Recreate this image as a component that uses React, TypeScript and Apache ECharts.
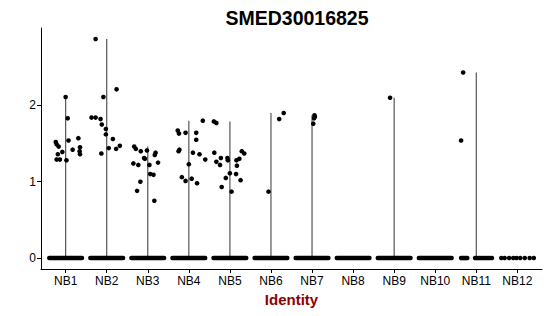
import React, { useEffect, useRef } from "react";
import * as echarts from "echarts";

const categories = ["NB1", "NB2", "NB3", "NB4", "NB5", "NB6", "NB7", "NB8", "NB9", "NB10", "NB11", "NB12"];
const yTicks = [0, 1, 2];
const yMin = -0.1435;
const yMax = 3.0135;

// top of each (very thin) violin, 0 = no violin drawn
const violinMax = [2.11, 2.87, 1.46, 1.8, 1.79, 1.9, 1.87, 0, 2.1, 0, 2.43, 0];

// non-zero expression points: [jitter, value]
const nb1Points = [[-0.24, 1.52], [-0.22, 1.49], [-0.17, 1.46], [-0.19, 1.36], [-0.22, 1.29], [-0.14, 1.29], [-0.08, 1.39], [0, 2.11], [0.05, 1.83], [0.07, 1.54], [0.02, 1.28], [0.17, 1.42], [0.31, 1.57], [0.35, 1.45], [0.34, 1.4], [0.35, 1.36]];
const nb2Points = [[-0.27, 2.87], [-0.37, 1.84], [-0.27, 1.84], [-0.15, 1.82], [-0.12, 1.75], [-0.08, 2.11], [-0.02, 1.69], [-0.02, 1.62], [-0.13, 1.37], [0.05, 1.44], [0.15, 1.56], [0.24, 2.21], [0.23, 1.43], [0.32, 1.47]];
const nb3Points = [[-0.33, 1.46], [-0.29, 1.43], [-0.35, 1.24], [-0.23, 1.22], [-0.17, 1.4], [-0.09, 1.31], [-0.07, 1.3], [-0.02, 1.41], [-0.18, 1.0], [-0.26, 0.88], [0.04, 1.22], [0.06, 1.1], [0.14, 1.09], [0.17, 1.35], [0.19, 1.38], [0.25, 1.25], [0.16, 0.75]];
const nb4Points = [[-0.27, 1.67], [-0.24, 1.63], [-0.25, 1.4], [-0.23, 1.42], [-0.08, 1.64], [-0.17, 1.06], [-0.08, 1.01], [0, 1.23], [0.07, 1.04], [0.1, 1.38], [0.18, 1.64], [0.18, 1.55], [0.2, 0.98], [0.26, 1.36], [0.34, 1.8], [0.4, 1.29]];
const nb5Points = [[-0.39, 1.79], [-0.33, 1.77], [-0.38, 1.38], [-0.33, 1.26], [-0.24, 1.22], [-0.22, 1.31], [-0.06, 1.31], [-0.05, 1.28], [-0.1, 1.05], [-0.2, 0.93], [0, 1.11], [0.04, 0.87], [0.15, 1.1], [0.16, 1.28], [0.17, 1.21], [0.23, 1.3], [0.26, 1.02], [0.29, 1.4], [0.35, 1.37]];
const nb6Points = [[-0.06, 0.87], [0.2, 1.82], [0.31, 1.9]];
const nb7Points = [[0.06, 1.87], [0.07, 1.85], [0.05, 1.83], [0.03, 1.76]];
const nb8Points: number[][] = [];
const nb9Points = [[-0.1, 2.1]];
const nb10Points: number[][] = [];
const nb11Points = [[-0.32, 2.43], [-0.37, 1.54]];
const nb12Points: number[][] = [];
const groupPoints = [nb1Points, nb2Points, nb3Points, nb4Points, nb5Points, nb6Points, nb7Points, nb8Points, nb9Points, nb10Points, nb11Points, nb12Points];

// zero-valued cells: dense jitter bands (half-width in category units), 0 = listed individually
const zeroBandHalf = [0.4, 0.4, 0.4, 0.4, 0.4, 0.4, 0.4, 0.4, 0.4, 0.4, 0, 0];
const nb11ZeroJitter = [-0.37, -0.34, -0.31, -0.28, -0.25, -0.22, -0.03, 0.01, 0.05, 0.09, 0.13, 0.17, 0.21, 0.25, 0.29, 0.33, 0.38];
const nb12ZeroJitter = [-0.39, -0.31, -0.2, -0.1, -0.02, 0.07, 0.18, 0.3, 0.4];

const FONT = "'Liberation Sans', Arial, Helvetica, sans-serif";

export default function App() {
  const ref = useRef<HTMLDivElement>(null);
  useEffect(() => {
    if (!ref.current) return;
    const chart = echarts.init(ref.current, null, { renderer: "svg" });

    const scatterData: number[][] = [];
    groupPoints.forEach((pts, i) => pts.forEach(([j, v]) => scatterData.push([i + 1 + j, v])));
    nb11ZeroJitter.forEach((j) => scatterData.push([11 + j, 0]));
    nb12ZeroJitter.forEach((j) => scatterData.push([12 + j, 0]));

    const violinData = violinMax.map((m, i) => [i + 1, m]).filter((d) => d[1] > 0);
    const bandData = zeroBandHalf.map((h, i) => [i + 1, h]).filter((d) => d[1] > 0);

    chart.setOption({
      animation: false,
      title: {
        text: "SMED30016825",
        left: 292,
        top: 3,
        textAlign: "center",
        textStyle: { fontFamily: FONT, fontSize: 19.5, fontWeight: "bold", color: "#000" },
      },
      grid: { left: 41, right: 8, top: 28, bottom: 47, containLabel: false },
      xAxis: {
        type: "value",
        min: 0.4,
        max: 12.6,
        splitLine: { show: false },
        axisLine: { show: true, onZero: false, lineStyle: { color: "#000", width: 1 } },
        axisTick: { show: true, length: 4, customValues: categories.map((_, i) => i + 1), lineStyle: { color: "#000" } },
        axisLabel: {
          customValues: categories.map((_, i) => i + 1),
          formatter: (v: number) => categories[Math.round(v) - 1] ?? "",
          fontFamily: FONT,
          fontSize: 12,
          color: "#000",
          margin: 6,
        },
        name: "Identity",
        nameLocation: "middle",
        nameGap: 23,
        nameTextStyle: { fontFamily: FONT, fontSize: 15, fontWeight: "bold", color: "#8B0000" },
      },
      yAxis: {
        type: "value",
        min: yMin,
        max: yMax,
        splitLine: { show: false },
        axisLine: { show: true, onZero: false, lineStyle: { color: "#000", width: 1 } },
        axisTick: { show: true, length: 4, customValues: yTicks, lineStyle: { color: "#000" } },
        axisLabel: {
          customValues: yTicks,
          formatter: (v: number) => String(Math.round(v)),
          fontFamily: FONT,
          fontSize: 12,
          color: "#000",
          margin: 5,
        },
      },
      series: [
        {
          type: "custom",
          data: violinData,
          z: 2,
          renderItem: (_p: any, api: any) => {
            const x = api.value(0);
            const m = api.value(1);
            const a = api.coord([x, 0]);
            const b = api.coord([x, m]);
            return {
              type: "line",
              shape: { x1: a[0], y1: a[1], x2: b[0], y2: b[1] },
              style: { stroke: "#555", lineWidth: 1.2 },
            };
          },
        },
        {
          type: "custom",
          data: bandData,
          z: 3,
          renderItem: (_p: any, api: any) => {
            const x = api.value(0);
            const h = api.value(1);
            const a = api.coord([x - h, 0]);
            const b = api.coord([x + h, 0]);
            return {
              type: "rect",
              shape: { x: a[0] - 2.2, y: a[1] - 2.2, width: b[0] - a[0] + 4.4, height: 4.4, r: 2.2 },
              style: { fill: "#000" },
            };
          },
        },
        {
          type: "scatter",
          data: scatterData,
          z: 4,
          symbol: "circle",
          symbolSize: 4.6,
          itemStyle: { color: "#000", opacity: 1 },
        },
      ],
    });
    return () => chart.dispose();
  }, []);

  return (
    <div style={{ position: "absolute", left: 0, top: 0, width: 550, height: 316, background: "#fff" }}>
      <div ref={ref} style={{ width: 550, height: 316 }} />
    </div>
  );
}
